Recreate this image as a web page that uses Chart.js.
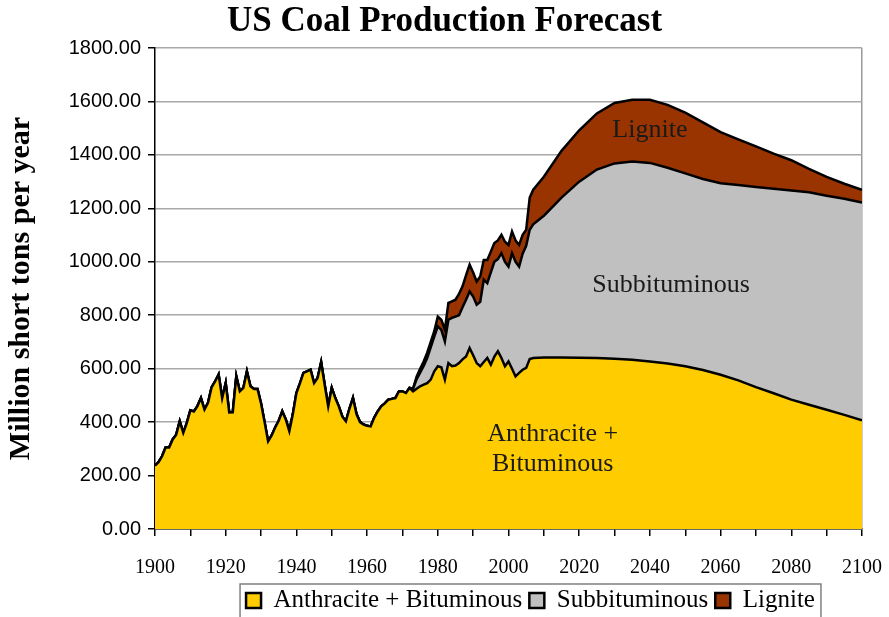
<!DOCTYPE html>
<html>
<head>
<meta charset="utf-8">
<title>US Coal Production Forecast</title>
<script src="https://cdn.jsdelivr.net/npm/chart.js@4.4.1/dist/chart.umd.min.js"></script>
<style>
  html, body { margin: 0; padding: 0; background: #fff; }
</style>
</head>
<body>
<canvas id="coal" width="889" height="617"></canvas>
<script>
// Years on the x axis: annual history, then the 5-year forecast
const years = [
  1900, 1901, 1902, 1903, 1904, 1905, 1906, 1907, 1908, 1909,
  1910, 1911, 1912, 1913, 1914, 1915, 1916, 1917, 1918, 1919,
  1920, 1921, 1922, 1923, 1924, 1925, 1926, 1927, 1928, 1929,
  1930, 1931, 1932, 1933, 1934, 1935, 1936, 1937, 1938, 1939,
  1940, 1941, 1942, 1943, 1944, 1945, 1946, 1947, 1948, 1949,
  1950, 1951, 1952, 1953, 1954, 1955, 1956, 1957, 1958, 1959,
  1960, 1961, 1962, 1963, 1964, 1965, 1966, 1967, 1968, 1969,
  1970, 1971, 1972, 1973, 1974, 1975, 1976, 1977, 1978, 1979,
  1980, 1981, 1982, 1983, 1984, 1985, 1986, 1987, 1988, 1989,
  1990, 1991, 1992, 1993, 1994, 1995, 1996, 1997, 1998, 1999,
  2000, 2001, 2002, 2003, 2004, 2005, 2006, 2007,
  2010, 2015, 2020, 2025, 2030, 2035, 2040, 2045, 2050, 2055,
  2060, 2065, 2070, 2075, 2080, 2085, 2090, 2095, 2100
];

// Anthracite + Bituminous, million short tons
const anthBit = [
  237, 250, 272, 305, 305, 335, 353, 403, 360, 397,
  444, 440, 460, 490, 447, 472, 530, 552, 578, 490,
  546, 436, 437, 571, 515, 528, 590, 534, 524, 524,
  470, 400, 328, 350, 380, 405, 440, 410, 366, 430,
  509, 545, 584, 590, 596, 546, 565, 624, 540, 459,
  528, 490, 459, 420, 403, 450, 490, 430, 400, 391,
  386, 384, 416, 440, 459, 470, 484, 487, 490, 515,
  515, 509, 528, 515, 525, 534, 540, 546, 559, 590,
  609, 605, 559, 621, 609, 612, 621, 635, 646, 677,
  650, 621, 609, 625, 640, 615, 645, 665, 640, 609,
  627, 600, 571, 584, 596, 603, 636, 640,
  642, 642, 641, 640, 637, 633, 627, 619, 609, 595,
  577, 556, 531, 508, 484, 465, 446, 427, 407
];

// Subbituminous and Lignite start in 1972 (nothing before that)
const laterStart = 1972;
const subbit = [
  0, 10, 35, 51, 70, 94, 121, 130,
  149, 140, 143, 162, 181, 183, 179, 195, 212, 212,
  220, 218, 241, 308, 280, 345, 355, 345, 392, 391,
  355, 432, 429, 398, 434, 457, 484, 500,
  530, 598, 659, 705, 731, 742, 743, 733, 722, 715,
  717, 731, 749, 765, 783, 795, 801, 809, 815
];
const lignite = [
  0, 0, 10, 15, 17, 20, 20, 20,
  37, 38, 44, 63, 62, 63, 80, 78, 92, 100,
  90, 87, 95, 74, 87, 78, 70, 70, 69, 75,
  81, 81, 80, 81, 71, 60, 120, 130,
  146, 175, 192, 210, 226, 231, 236, 235, 227, 212,
  191, 171, 152, 132, 113, 88, 71, 56, 47
];

const seriesNames = ["Anthracite + Bituminous", "Subbituminous", "Lignite"];
const seriesColors = ["#FFCC00", "#C0C0C0", "#993300"];
const yTicks = [0, 200, 400, 600, 800, 1000, 1200, 1400, 1600, 1800];

// Text placed inside the areas: [text lines, year, value]
const areaLabels = [
  [["Lignite"], 2040, 1493],
  [["Subbituminous"], 2046, 914],
  [["Anthracite +", "Bituminous"], 2012.5, 300]
];

const offset = years.indexOf(laterStart);
const pointsFor = (vals, start) =>
  years.map((x, i) => ({ x: x, y: i < start ? 0 : vals[i - start] }));

const serif = "'Liberation Serif', 'Times New Roman', serif";
const sans = "'Liberation Sans', Arial, sans-serif";

// Writes the area names and moves/frames the legend
const extras = {
  id: "extras",
  afterLayout(chart) {
    const lg = chart.legend;
    lg.left += 22; lg.right += 22;
    lg.top += 6; lg.bottom += 6;
  },
  afterDatasetsDraw(chart) {
    const { ctx, scales } = chart;
    ctx.save();
    ctx.fillStyle = "#1a1a1a";
    ctx.font = "26px " + serif;
    ctx.textAlign = "center";
    ctx.textBaseline = "middle";
    areaLabels.forEach(([lines, yr, val]) => {
      const px = scales.x.getPixelForValue(yr);
      const py = scales.y.getPixelForValue(val);
      lines.forEach((t, i) => ctx.fillText(t, px, py + (i - (lines.length - 1) / 2) * 30));
    });
    ctx.restore();
  },
  afterDraw(chart) {
    const boxes = chart.legend.legendHitBoxes;
    if (!boxes || !boxes.length) return;
    const l = Math.min(...boxes.map(b => b.left)) - 6;
    const r = Math.max(...boxes.map(b => b.left + b.width)) + 6;
    const t = Math.min(...boxes.map(b => b.top)) - 4;
    const ctx = chart.ctx;
    ctx.save();
    ctx.strokeStyle = "#808080";
    ctx.lineWidth = 1.5;
    ctx.strokeRect(l, t, r - l, 40);
    ctx.restore();
  }
};

new Chart(document.getElementById("coal"), {
  type: "line",
  plugins: [extras],
  data: {
    datasets: [
      { label: seriesNames[0], data: pointsFor(anthBit, 0), fill: "origin" },
      { label: seriesNames[1], data: pointsFor(subbit, offset), fill: "-1" },
      { label: seriesNames[2], data: pointsFor(lignite, offset), fill: "-1" }
    ].map((d, i) => Object.assign(d, {
      backgroundColor: seriesColors[i],
      borderColor: "#000",
      borderWidth: 2.5,
      pointRadius: 0,
      tension: 0
    }))
  },
  options: {
    responsive: false,
    animation: false,
    layout: { padding: { left: 0, right: 0, top: 0, bottom: 0 } },
    plugins: {
      title: {
        display: true,
        text: "US Coal Production Forecast",
        color: "#000",
        font: { family: serif, size: 35, weight: "bold" },
        padding: { top: 1, bottom: 5 }
      },
      legend: {
        position: "bottom",
        fullSize: false,
        labels: {
          color: "#000",
          font: { family: serif, size: 25 },
          boxWidth: 15,
          boxHeight: 15,
          padding: 7
        }
      },
      tooltip: { enabled: false }
    },
    scales: {
      x: {
        type: "linear",
        min: 1900,
        max: 2100,
        afterFit(scale) {
          scale.height = 46;
          scale.paddingRight = 27;
        },
        border: { color: "#000", width: 1.5 },
        grid: {
          drawOnChartArea: true,
          color: (c) => (c.tick && c.tick.value === 2100 ? "#999" : "rgba(0,0,0,0)"),
          lineWidth: 1.5,
          tickColor: "#000",
          tickLength: 7
        },
        ticks: {
          stepSize: 10,
          autoSkip: false,
          maxRotation: 0,
          padding: 20,
          color: "#000",
          font: { family: serif, size: 20 },
          callback: (v) => (v % 20 === 0 ? String(v) : "")
        }
      },
      y: {
        stacked: true,
        min: 0,
        max: 1800,
        afterFit(scale) { scale.width = 155; },
        afterBuildTicks(scale) { scale.ticks = yTicks.map(v => ({ value: v })); },
        border: { color: "#000", width: 1.5 },
        grid: { color: "#A8A8A8", lineWidth: 1.5, tickColor: "#000", tickLength: 7 },
        ticks: {
          padding: 7,
          color: "#000",
          font: { family: sans, size: 20 },
          callback: (v) => Number(v).toFixed(2)
        },
        title: {
          display: true,
          text: "Million short tons per year",
          color: "#000",
          font: { family: serif, size: 30, weight: "bold" },
          padding: { top: 3, bottom: 0 }
        }
      }
    }
  }
});
</script>
</body>
</html>
